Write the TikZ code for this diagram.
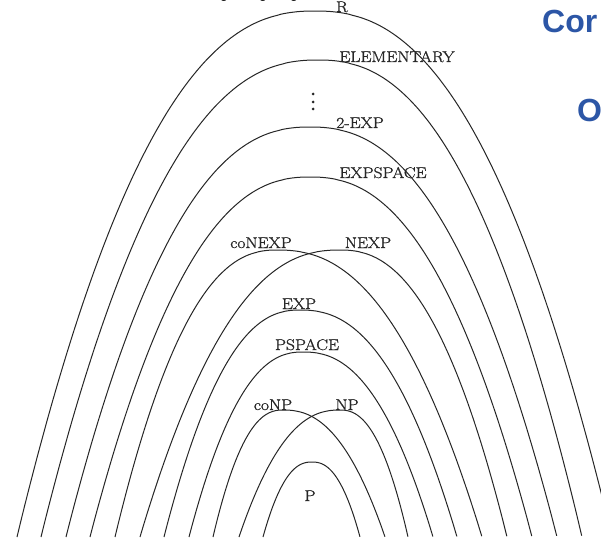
\documentclass[tikz,border=0pt]{standalone}
\usepackage{fontspec}
\usepackage{graphicx}
\newfontfamily\titlefont{Liberation Sans}
\newfontfamily\labfont{Latin Modern Roman}[FakeBold=1]
\definecolor{titleblue}{RGB}{44,86,166}
\newcommand{\wide}[1]{\scalebox{1.13}[1]{#1}}
\newcommand{\archcurve}[4]{% left foot x, peak x, right foot x, peak y
  \draw[arch] plot[domain=1:0.002, samples=90, smooth, variable=\t]
    ({#2-(#2-#1)*\t},{#4+(537-#4)*pow(\t,2.35)})
    -- plot[domain=0.002:1, samples=90, smooth, variable=\t]
    ({#2+(#3-#2)*\t},{#4+(537-#4)*pow(\t,2.35)});
}
\tikzset{
  arch/.style={draw=black!85, line width=1pt},
  lab/.style={inner sep=0pt, anchor=base, text=black!85, font=\labfont\fontsize{15.5}{18}\selectfont},
  dotn/.style={circle, fill=black!85, inner sep=0pt, minimum size=3pt},
  title/.style={inner sep=0pt, anchor=base west, text=titleblue, font=\titlefont\bfseries\fontsize{32}{36}\selectfont},
  frag/.style={inner sep=0pt, anchor=base, font=\titlefont\fontsize{14}{16}\selectfont},
}
\begin{document}
\begin{tikzpicture}[x=1pt, y=-1pt]
\useasboundingbox (0,0) rectangle (601,537);
\fill[white] (0,0) rectangle (601,537);
\begin{scope}
\clip (0,0) rectangle (601,537);
% arches: left foot, peak x, right foot, peak y
\archcurve{17}{315}{612}{11}    % R
\archcurve{41}{318}{582}{60}    % ELEMENTARY
\archcurve{66}{310}{557}{127}   % 2-EXP
\archcurve{90}{310}{532}{177}   % EXPSPACE
\archcurve{115}{277}{482}{250}  % coNEXP
\archcurve{140}{340}{507}{250}  % NEXP
\archcurve{164}{300}{457}{310}  % EXP
\archcurve{189}{303}{433}{352}  % PSPACE
\archcurve{213}{283}{385}{410}  % coNP
\archcurve{239}{340}{408}{410}  % NP
\archcurve{263}{312}{360}{462}  % P
% labels
\node[lab] (lR) at (342,12) {\wide{R}};
\node[lab] (lEL) at (397,62) {\wide{ELEMENTARY}};
\node[lab] (l2E) at (360,128) {\wide{2-EXP}};
\node[lab] (lES) at (383,178) {\wide{EXPSPACE}};
\node[lab] (lcNE) at (261,248) {\wide{coNEXP}};
\node[lab] (lNE) at (368,248) {\wide{NEXP}};
\node[lab] (lEX) at (299,309) {\wide{EXP}};
\node[lab] (lPS) at (307,350) {\wide{PSPACE}};
\node[lab] (lcNP) at (273,410) {\wide{coNP}};
\node[lab] (lNP) at (347,410) {\wide{NP}};
\node[lab] (lP) at (310,501) {\wide{P}};
% vertical dots
\node[dotn] (d1) at (313,94) {};
\node[dotn] (d2) at (313,102) {};
\node[dotn] (d3) at (313,109) {};
% cut-off slide title
\node[title] (t1) at (542,33) {Cor};
\node[title] (t2) at (577,122) {O};
% descenders of cut-off text above
\node[frag] (f1) at (224,-1) {g};
\node[frag] (f2) at (263,-1) {g};
\node[frag] (f3) at (294,-1) {g};
\end{scope}
\end{tikzpicture}
\end{document}
